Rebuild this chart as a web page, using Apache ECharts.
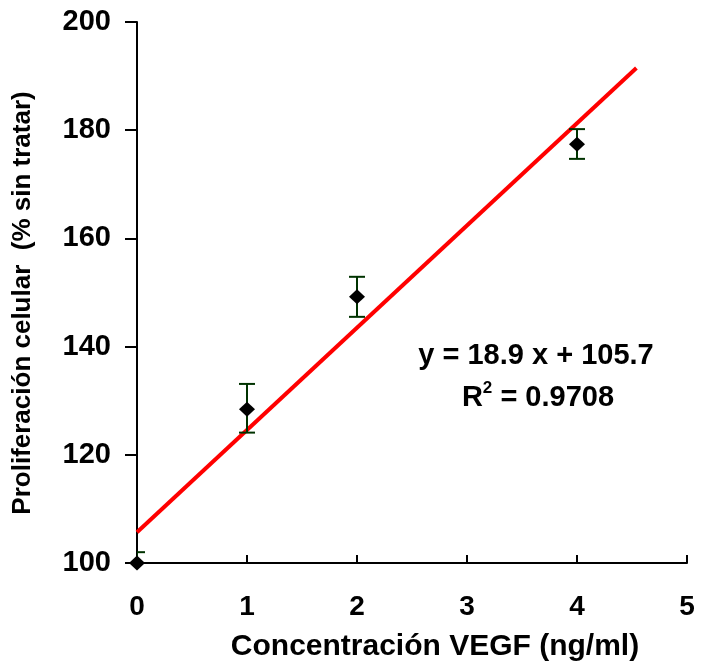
<!DOCTYPE html>
<html>
<head>
<meta charset="utf-8">
<script src="https://cdn.jsdelivr.net/npm/echarts@6/dist/echarts.min.js"></script>
<style>
html,body{margin:0;padding:0;background:#fff;}
#chart{width:702px;height:664px;}
</style>
</head>
<body>
<div id="chart"></div>
<script>
// Data
var concentrations = [0, 1, 2, 4];
var proliferation = [100, 128.4, 149.2, 177.4];
var errLow = [98, 124.1, 145.5, 174.7];
var errHigh = [102, 133.1, 152.9, 180.2];
var slope = 18.9;
var intercept = 105.7;
var fitX = [0, 4.54];
var xTicks = [0, 1, 2, 3, 4, 5];
var yTicks = [100, 120, 140, 160, 180, 200];
var eqText = 'y = 18.9 x + 105.7';
var r2Value = '0.9708';
var xTitle = 'Concentración VEGF (ng/ml)';
var yTitle = 'Proliferación celular  (% sin tratar)';

var fitLine = fitX.map(function (x) { return [x, +(slope * x + intercept).toFixed(2)]; });
var points = concentrations.map(function (x, i) { return [x, proliferation[i]]; });
var errData = concentrations.map(function (x, i) { return [x, errLow[i], errHigh[i]]; });

var FONT = '"Liberation Sans", Arial, sans-serif';
var chart = echarts.init(document.getElementById('chart'), null, {renderer: 'canvas'});

chart.setOption({
  animation: false,
  backgroundColor: '#ffffff',
  grid: {left: 137, right: 15, top: 22, bottom: 101, containLabel: false},
  xAxis: {
    type: 'value', min: xTicks[0], max: xTicks[xTicks.length - 1], interval: 1,
    axisLine: {show: true, onZero: false, lineStyle: {color: '#000', width: 2}},
    axisTick: {show: true, inside: true, length: 8, lineStyle: {color: '#000', width: 2}},
    axisLabel: {margin: 30, color: '#000', fontFamily: FONT, fontWeight: 'bold', fontSize: 28},
    splitLine: {show: false}
  },
  yAxis: {
    type: 'value', min: yTicks[0], max: yTicks[yTicks.length - 1], interval: 20,
    axisLine: {show: true, onZero: false, lineStyle: {color: '#000', width: 2}},
    axisTick: {show: true, inside: false, length: 12, lineStyle: {color: '#000', width: 2}},
    axisLabel: {margin: 26, color: '#000', fontFamily: FONT, fontWeight: 'bold', fontSize: 29},
    splitLine: {show: false}
  },
  series: [
    {
      type: 'line', data: fitLine, symbol: 'none', clip: false, z: 3,
      lineStyle: {color: '#ff0000', width: 4}
    },
    {
      type: 'custom', data: errData, z: 4, clip: true,
      renderItem: function (params, api) {
        var x = api.value(0);
        var lo = api.coord([x, api.value(1)]);
        var hi = api.coord([x, api.value(2)]);
        var hw = 8;
        var st = {stroke: '#003300', lineWidth: 2};
        return {
          type: 'group',
          children: [
            {type: 'line', shape: {x1: hi[0], y1: hi[1], x2: lo[0], y2: lo[1]}, style: st},
            {type: 'line', shape: {x1: hi[0] - hw, y1: hi[1], x2: hi[0] + hw, y2: hi[1]}, style: st},
            {type: 'line', shape: {x1: lo[0] - hw, y1: lo[1], x2: lo[0] + hw, y2: lo[1]}, style: st}
          ]
        };
      }
    },
    {
      type: 'scatter', data: points, symbol: 'diamond', symbolSize: [16, 15], clip: false, z: 5,
      itemStyle: {color: '#000000', opacity: 1}
    }
  ],
  graphic: [
    {
      type: 'text', z: 10, position: [435, 647],
      style: {text: xTitle, x: 0, y: 0, align: 'center', verticalAlign: 'middle',
        font: 'bold 30px ' + FONT, fill: '#000'}
    },
    {
      type: 'text', z: 10, rotation: Math.PI / 2, position: [23, 303],
      style: {text: yTitle, x: 0, y: 0, align: 'center', verticalAlign: 'middle',
        font: 'bold 26px ' + FONT, fill: '#000'}
    },
    {
      type: 'text', z: 10, position: [536, 356],
      style: {text: eqText, x: 0, y: 0, align: 'center', verticalAlign: 'middle',
        font: 'bold 29px ' + FONT, fill: '#000'}
    },
    {
      type: 'text', z: 10, position: [538, 396],
      style: {
        text: '{b|R}{sup|2}{b| = ' + r2Value + '}', x: 0, y: 0, align: 'center', verticalAlign: 'middle',
        rich: {
          b: {font: 'bold 29px ' + FONT, fill: '#000', verticalAlign: 'bottom', lineHeight: 32},
          sup: {font: 'bold 17px ' + FONT, fill: '#000', verticalAlign: 'top', lineHeight: 32, padding: [0, 0, 12, 0]}
        }
      }
    }
  ]
});
</script>
</body>
</html>
